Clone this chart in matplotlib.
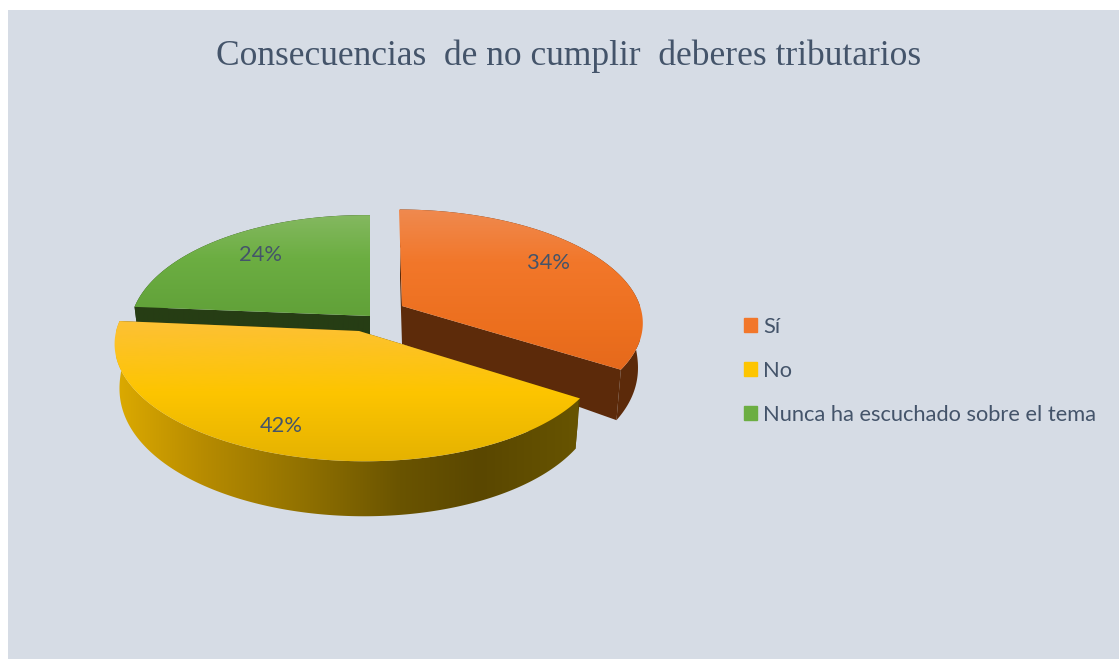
import numpy as np
import matplotlib
matplotlib.use('Agg')
import matplotlib.pyplot as plt
from matplotlib.colors import LinearSegmentedColormap, to_rgb
from matplotlib.patches import Patch, Polygon, Rectangle

title = 'Consecuencias  de no cumplir  deberes tributarios'
labels = ['Sí', 'No', 'Nunca ha escuchado sobre el tema']
values = [34, 42, 24]

W, H = 1119, 659
PANEL = '#D6DCE5'
TEXT = '#44546A'
KEY = 0.14  # perspective strength

# one entry per slice: centre x, centre y, half width, half height, lean, tilt
geom = [(402, 306, 238, 110, -3, 0), (359, 331, 242, 112, 0, 3), (370, 316, 238, 115, 0, 2)]
top_stops = [
    [(208, '#EF8A50'), (262, '#F2772A'), (330, '#EC6F1E'), (372, '#E5691C')],
    [(320, '#FDC136'), (392, '#FDC500'), (462, '#E5B200')],
    [(215, '#84B860'), (258, '#6CAE42'), (320, '#60A038')],
]
wall_stops = [
    [(400, '#5E2C0B'), (640, '#5C2A0A')],
    [(116, '#DCAA00'), (200, '#B88C00'), (300, '#927200'), (400, '#6A5400'), (480, '#5A4700'), (578, '#675400')],
    [(130, '#263D14'), (370, '#263D14')],
]
label_xy = [(548, 263), (281, 426), (260, 255)]


def rim(deg, g):
    cx, cy, a, b, lean, tilt = g
    t = np.radians(deg)
    x, y = np.sin(t), np.cos(t)
    w = 1 / (1 + KEY * y)
    return cx + a * x * w + lean * y, cy - b * y * w + tilt * x


def drop(deg):
    # wall height grows towards the viewer
    return 38 + 17 * np.sqrt(np.clip(-np.cos(np.radians(deg)), 0, 1))


def under(deg, g):
    cx = g[0]
    sx, sy = rim(deg, g)
    return cx + (sx - cx) * 0.98, sy + drop(deg)


def shaded(ax, pts, stops, axis):
    # gradient image clipped to the polygon
    pos = [s[0] for s in stops]
    lo, hi = pos[0], pos[-1]
    cmap = LinearSegmentedColormap.from_list(
        'g', [((p - lo) / (hi - lo), to_rgb(c)) for p, c in stops])
    ramp = np.linspace(0, 1, 256)
    if axis == 'y':
        im = ax.imshow(ramp[:, None], cmap=cmap, extent=(0, W, hi, lo), aspect='auto', zorder=zo[0])
    else:
        im = ax.imshow(ramp[None, :], cmap=cmap, extent=(lo, hi, H, 0), aspect='auto', zorder=zo[0])
    poly = Polygon(pts, closed=True, transform=ax.transData, fc='none', ec='none')
    ax.add_patch(poly)
    im.set_clip_path(poly)
    zo[0] += 1


fig, ax = plt.subplots(figsize=(W / 100, H / 100), dpi=100)
fig.subplots_adjust(0, 0, 1, 1)
ax.add_patch(Rectangle((8, 10), W - 8, H - 10, fc=PANEL, ec='none', zorder=0))
zo = [1]

edges = np.cumsum([0] + values) * 3.6
# back to front: green, orange, yellow
for i in [2, 0, 1]:
    g = geom[i]
    a0, a1 = edges[i], edges[i + 1]
    angs = np.linspace(a0, a1, 200)
    apex = (g[0], g[1])
    apex_low = (g[0], g[1] + 38)

    # cut faces
    for ang in (a0, a1):
        face = [apex, rim(ang, g), under(ang, g), apex_low]
        shaded(ax, face, wall_stops[i] if i != 1 else [(0, '#5A4700'), (W, '#5A4700')], 'x')
    # outer wall
    wall = [rim(t, g) for t in angs] + [under(t, g) for t in angs[::-1]]
    shaded(ax, wall, wall_stops[i], 'x')
    # top face
    shaded(ax, [apex] + [rim(t, g) for t in angs], top_stops[i], 'y')

for v, (x, y) in zip(values, label_xy):
    ax.text(x, y, f'{v}%', color=TEXT, fontsize=15.75, family='Lato', ha='center', va='center', zorder=50)

ax.text(568.5, 56, title, color=TEXT, fontsize=25.5, family='Liberation Serif', ha='center', va='center', zorder=50)

keys = [Patch(color=top_stops[0][1][1]), Patch(color=top_stops[1][1][1]), Patch(color=top_stops[2][1][1])]
ax.legend(keys, labels, loc='center left', bbox_to_anchor=(744 / W, 1 - 371 / H), frameon=False,
          handlelength=0.6, handleheight=0.6, handletextpad=0.27, labelspacing=1.1,
          prop={'family': 'Lato', 'size': 15.75}, labelcolor=TEXT, borderpad=0, borderaxespad=0)

ax.set_xlim(0, W)
ax.set_ylim(H, 0)
ax.axis('off')
fig.savefig('out.png', dpi=100, facecolor='white')
